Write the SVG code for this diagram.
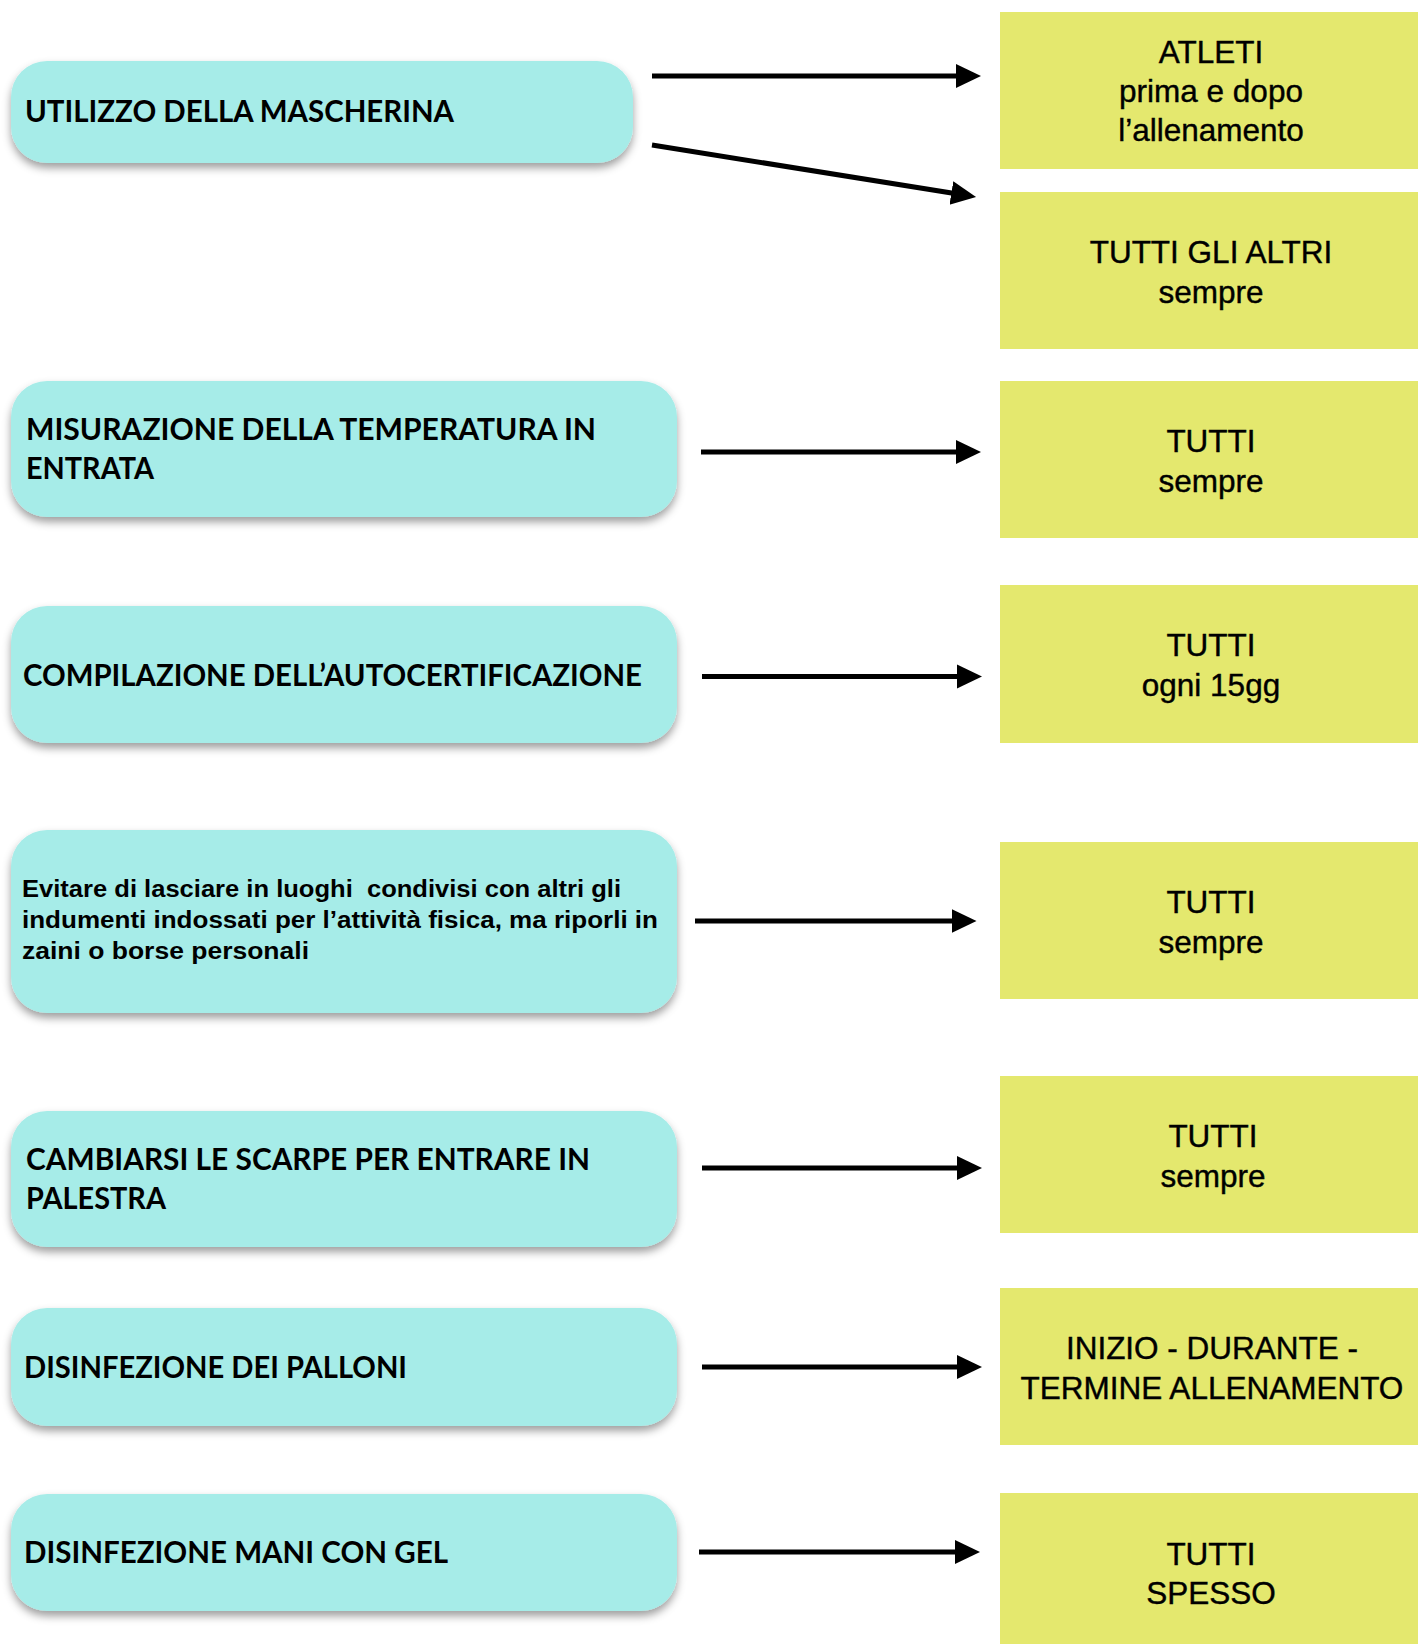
<svg xmlns="http://www.w3.org/2000/svg" width="1418" height="1644" viewBox="0 0 1418 1644">
<defs>
<filter id="sh" x="-5%" y="-20%" width="110%" height="150%">
<feDropShadow dx="0" dy="5" stdDeviation="4.5" flood-color="#000" flood-opacity="0.38"/>
</filter>
<marker id="ah" markerUnits="userSpaceOnUse" markerWidth="26" markerHeight="26" refX="5" refY="12" orient="auto" viewBox="0 0 26 24">
<path d="M0,0 L25,12 L0,24 Z" fill="#000"/>
</marker>
<style>
.cy{fill:#a6ece8;filter:url(#sh)}
.ye{fill:#e4e86e}
.lt{font-family:Lato,"Open Sans","Liberation Sans",sans-serif;font-weight:700;font-size:30.5px;fill:#000}
.lt2{font-family:"Liberation Sans",Arial,sans-serif;font-weight:700;font-size:23px;fill:#000}
.rt{font-family:"Liberation Sans",Arial,sans-serif;font-size:31.5px;fill:#000;stroke:#000;stroke-width:0.4;text-anchor:middle}
.ar{stroke:#000;stroke-width:5;fill:none;marker-end:url(#ah)}
</style>
</defs>
<rect width="1418" height="1644" fill="#fff"/>

<g id="n1">
<rect class="cy" x="11" y="61" width="622" height="102" rx="36"/>
<text class="lt" x="25" y="122" textLength="429" lengthAdjust="spacingAndGlyphs">UTILIZZO DELLA MASCHERINA</text>
</g>
<g id="n2">
<rect class="cy" x="11" y="381" width="666" height="136" rx="36"/>
<text class="lt" x="26" y="440" textLength="570" lengthAdjust="spacingAndGlyphs">MISURAZIONE DELLA TEMPERATURA IN</text>
<text class="lt" x="26" y="479" textLength="128" lengthAdjust="spacingAndGlyphs">ENTRATA</text>
</g>
<g id="n3">
<rect class="cy" x="11" y="606" width="666" height="137" rx="36"/>
<text class="lt" x="23" y="686" textLength="619" lengthAdjust="spacingAndGlyphs">COMPILAZIONE DELL’AUTOCERTIFICAZIONE</text>
</g>
<g id="n4">
<rect class="cy" x="11" y="830" width="666" height="183" rx="36"/>
<text class="lt2" x="22" y="897" textLength="599" lengthAdjust="spacingAndGlyphs" xml:space="preserve">Evitare di lasciare in luoghi  condivisi con altri gli</text>
<text class="lt2" x="22" y="928" textLength="636" lengthAdjust="spacingAndGlyphs">indumenti indossati per l’attività fisica, ma riporli in</text>
<text class="lt2" x="22" y="959" textLength="287" lengthAdjust="spacingAndGlyphs">zaini o borse personali</text>
</g>
<g id="n5">
<rect class="cy" x="11" y="1111" width="666" height="136" rx="36"/>
<text class="lt" x="26" y="1170" textLength="564" lengthAdjust="spacingAndGlyphs">CAMBIARSI LE SCARPE PER ENTRARE IN</text>
<text class="lt" x="26" y="1209" textLength="140" lengthAdjust="spacingAndGlyphs">PALESTRA</text>
</g>
<g id="n6">
<rect class="cy" x="11" y="1308" width="666" height="118" rx="36"/>
<text class="lt" x="24" y="1378" textLength="383" lengthAdjust="spacingAndGlyphs">DISINFEZIONE DEI PALLONI</text>
</g>
<g id="n7">
<rect class="cy" x="11" y="1494" width="666" height="117" rx="36"/>
<text class="lt" x="24" y="1563" textLength="424" lengthAdjust="spacingAndGlyphs">DISINFEZIONE MANI CON GEL</text>
</g>

<g id="r1">
<rect class="ye" x="1000" y="12" width="418" height="157"/>
<text class="rt" x="1211" y="63">ATLETI</text>
<text class="rt" x="1211" y="102">prima e dopo</text>
<text class="rt" x="1211" y="141">l’allenamento</text>
</g>
<g id="r2">
<rect class="ye" x="1000" y="192" width="418" height="157"/>
<text class="rt" x="1211" y="263">TUTTI GLI ALTRI</text>
<text class="rt" x="1211" y="303">sempre</text>
</g>
<g id="r3">
<rect class="ye" x="1000" y="381" width="418" height="157"/>
<text class="rt" x="1211" y="452">TUTTI</text>
<text class="rt" x="1211" y="492">sempre</text>
</g>
<g id="r4">
<rect class="ye" x="1000" y="585" width="418" height="158"/>
<text class="rt" x="1211" y="656">TUTTI</text>
<text class="rt" x="1211" y="696">ogni 15gg</text>
</g>
<g id="r5">
<rect class="ye" x="1000" y="842" width="418" height="157"/>
<text class="rt" x="1211" y="913">TUTTI</text>
<text class="rt" x="1211" y="953">sempre</text>
</g>
<g id="r6">
<rect class="ye" x="1000" y="1076" width="418" height="157"/>
<text class="rt" x="1213" y="1147">TUTTI</text>
<text class="rt" x="1213" y="1187">sempre</text>
</g>
<g id="r7">
<rect class="ye" x="1000" y="1288" width="418" height="157"/>
<text class="rt" x="1212" y="1359">INIZIO - DURANTE -</text>
<text class="rt" x="1212" y="1399">TERMINE ALLENAMENTO</text>
</g>
<g id="r8">
<rect class="ye" x="1000" y="1493" width="418" height="157"/>
<text class="rt" x="1211" y="1565">TUTTI</text>
<text class="rt" x="1211" y="1604">SPESSO</text>
</g>

<g id="connectors">
<line class="ar" x1="652" y1="76" x2="961" y2="76"/>
<line class="ar" x1="652" y1="145" x2="956.3" y2="193.8"/>
<line class="ar" x1="701" y1="452" x2="961" y2="452"/>
<line class="ar" x1="702" y1="676.5" x2="962" y2="676.5"/>
<line class="ar" x1="695" y1="921" x2="956.5" y2="921"/>
<line class="ar" x1="702" y1="1168" x2="962" y2="1168"/>
<line class="ar" x1="702" y1="1367" x2="962" y2="1367"/>
<line class="ar" x1="699" y1="1552" x2="960" y2="1552"/>
</g>
</svg>
